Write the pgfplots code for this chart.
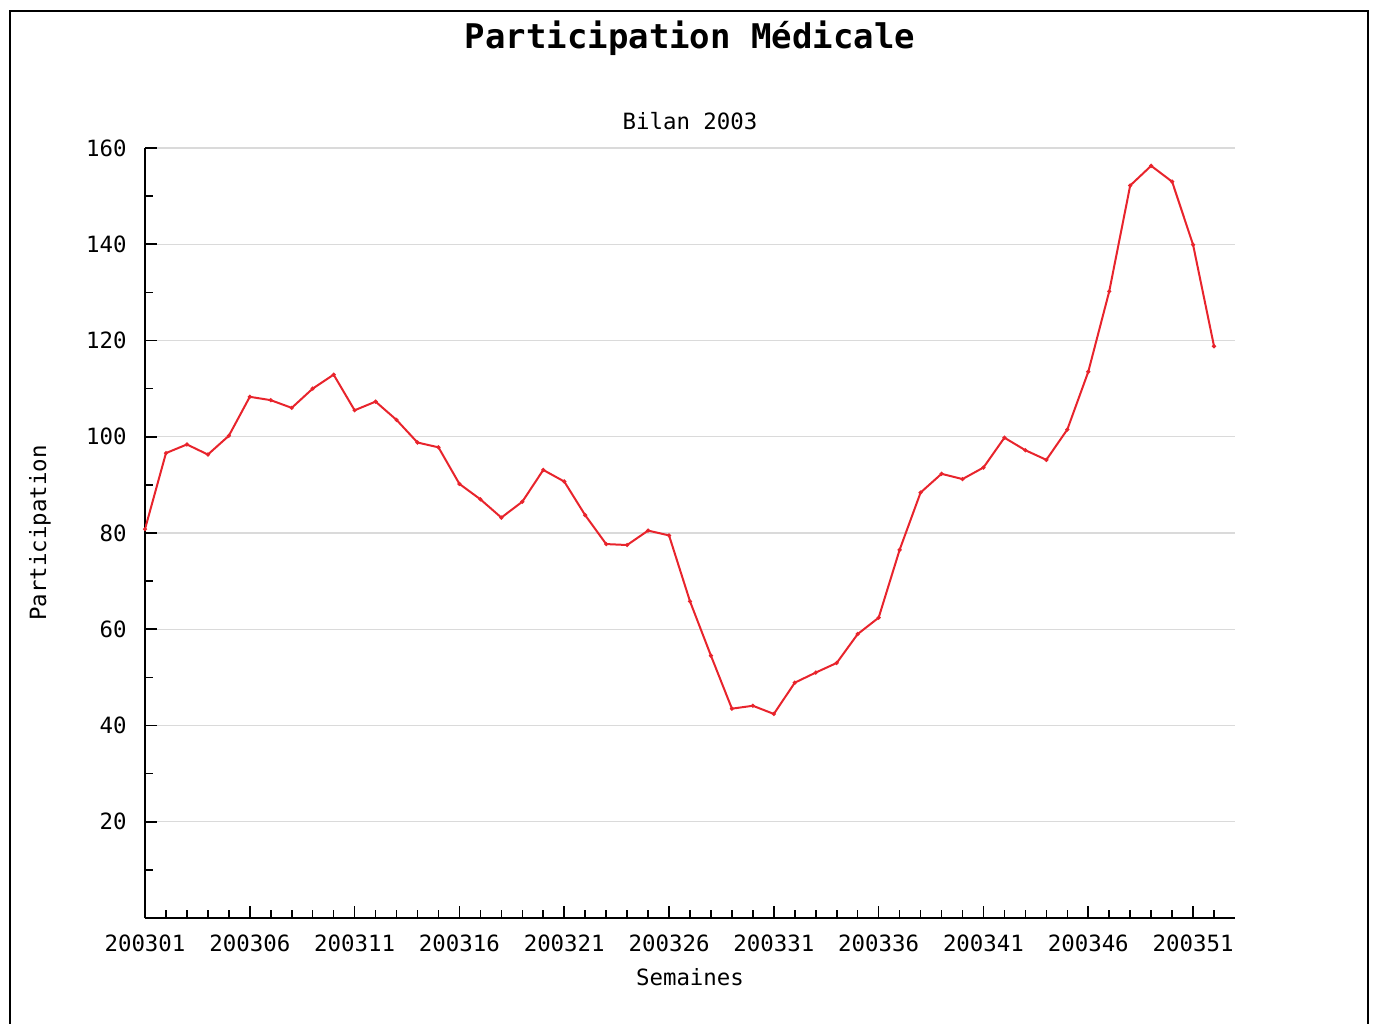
\documentclass[border=0pt]{standalone}
\usepackage{pgfplots}
\pgfplotsset{compat=1.18}
\usepackage{fontspec}
\setmainfont{DejaVu Sans Mono}
\definecolor{linered}{RGB}{232,36,44}
\definecolor{gridgray}{RGB}{218,218,218}
\newcommand{\lblfont}{\fontsize{11.2}{13}\selectfont}

\begin{document}
\begin{tikzpicture}
\useasboundingbox (-72.5pt,-52.5pt) rectangle (615pt,459pt);
\begin{axis}[
  name=ax,
  at={(0,0)}, anchor=south west,
  scale only axis, width=545pt, height=385pt,
  xmin=1, xmax=53, ymin=0, ymax=160,
  axis lines*=left,
  axis line style={line width=1pt, black},
  tick align=inside,
  major tick length=6pt, minor tick length=3.8pt,
  every tick/.style={black, line width=0.8pt},
  xtick={1,6,...,51},
  xticklabels={200301,200306,200311,200316,200321,200326,200331,200336,200341,200346,200351},
  minor xtick={1,...,52},
  ytick={20,40,...,160},
  minor ytick={10,30,...,150},
  ymajorgrids, grid style={gridgray, line width=0.6pt},
  /pgf/number format/assume math mode=true,
  ticklabel style={font=\lblfont},
  xticklabel style={anchor=center, yshift=-12.5pt},
  yticklabel style={anchor=east, inner sep=0pt, xshift=-9pt},
  xlabel={Semaines},
  xlabel style={at={(axis description cs:0.5,-0.0766)}, anchor=center, font=\lblfont},
  ylabel={Participation},
  ylabel style={at={(axis description cs:-0.0963,0.5)}, anchor=center, font=\lblfont},
]
\addplot[linered, line width=1pt, mark=*, mark size=0.45pt, mark options={fill=linered!70!black, draw=none}] coordinates {
  (1,80.8) (2,96.6) (3,98.4) (4,96.3) (5,100.2) (6,108.3) (7,107.6) (8,106.0)
  (9,110.0) (10,112.9) (11,105.5) (12,107.3) (13,103.5) (14,98.8) (15,97.8)
  (16,90.2) (17,87.0) (18,83.2) (19,86.5) (20,93.1) (21,90.7) (22,83.7)
  (23,77.7) (24,77.5) (25,80.5) (26,79.5) (27,65.8) (28,54.5) (29,43.5)
  (30,44.1) (31,42.4) (32,48.9) (33,51.0) (34,53.0) (35,59.0) (36,62.4)
  (37,76.5) (38,88.4) (39,92.3) (40,91.2) (41,93.6) (42,99.8) (43,97.2)
  (44,95.2) (45,101.5) (46,113.5) (47,130.2) (48,152.2) (49,156.3) (50,153.0)
  (51,139.9) (52,118.8)
};
\end{axis}
\node[font=\fontsize{17}{20}\selectfont\bfseries, anchor=center] at ([yshift=55pt]ax.north) {Participation Médicale};
\node[font=\lblfont, anchor=center] at ([yshift=13.5pt]ax.north) {Bilan 2003};
\draw[line width=1pt] (-67.5pt,-60pt) -- (-67.5pt,453.5pt) -- (611.5pt,453.5pt) -- (611.5pt,-60pt);
\end{tikzpicture}
\end{document}
